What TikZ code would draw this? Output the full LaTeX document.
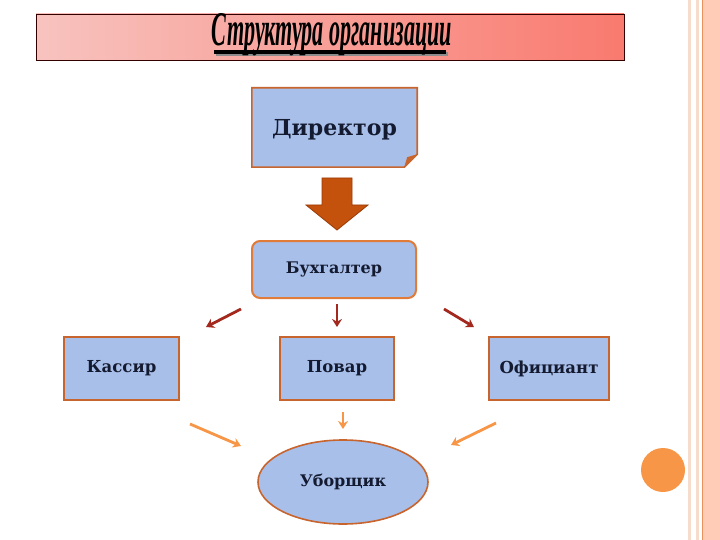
\documentclass[tikz,border=0pt]{standalone}
\usepackage{fontspec}
\setmainfont{DejaVu Serif}
\newfontfamily\titlefont{Liberation Serif}
\usetikzlibrary{shapes.geometric,calc,arrows.meta}
\definecolor{boxblue}{HTML}{A8BFE9}
\definecolor{boxedge}{HTML}{C8652E}
\definecolor{buxedge}{HTML}{E07B39}
\definecolor{bigarrow}{HTML}{C4510C}
\definecolor{bigarrowedge}{HTML}{9A3B08}
\definecolor{darkred}{HTML}{A3291F}
\definecolor{lightorange}{HTML}{F79646}
\definecolor{titleleft}{HTML}{F8C3BF}
\definecolor{titleright}{HTML}{F97A6F}
\definecolor{peach}{HTML}{FFCCB7}
\definecolor{stripe}{HTML}{F5DCCB}
\definecolor{stripeorange}{HTML}{E9905C}
\definecolor{textdark}{HTML}{141A30}
\tikzset{
  flatbox/.style={fill=boxblue, draw=boxedge, line width=1.6pt, minimum width=#1, minimum height=63pt, inner sep=0pt, font=\bfseries\fontsize{16.5}{19}\selectfont, text=textdark},
  redarrow/.style={draw=darkred, line width=2.8pt, -{Stealth[length=8pt,width=10pt]}},
  orarrow/.style={draw=lightorange, line width=2.8pt, -{Stealth[length=8pt,width=10pt]}},
}
\begin{document}
\begin{tikzpicture}[x=1pt,y=-1pt]
\useasboundingbox (0,0) rectangle (720,540);
\fill[white] (0,0) rectangle (720,540);
% right side stripes
\fill[stripe] (688,0) rectangle (691,540);
\fill[stripe] (696,0) rectangle (698.5,540);
\fill[peach] (702,0) rectangle (720,540);
\fill[stripeorange] (701.5,0) rectangle (703,540);
% title bar
\shade[left color=titleleft, right color=titleright] (36,14) rectangle (624,60);
\draw[draw=black!80!red, line width=0.8pt] (36,14) rectangle (624,60);
\fill[black!45] (216,52) rectangle (448,56);
\fill[black] (214,50) rectangle (446,54);
\node (title) [inner sep=0pt] at (332,35) {\resizebox{240pt}{32pt}{\titlefont\bfseries\itshape Структура организации}};
% director
\node (dir) [minimum width=165pt, minimum height=79pt, inner sep=0pt] at (334.5,127.5) {};
\filldraw[fill=boxblue, draw=boxedge, line width=1.6pt]
  (dir.north west) -- (dir.north east) -- ($(dir.south east)+(0,-13)$)
  .. controls ($(dir.south east)+(-4,-9)$) and ($(dir.south east)+(-9,-4)$) .. ($(dir.south east)+(-13,0)$)
  -- (dir.south west) -- cycle;
\fill[boxedge] ($(dir.south east)+(0,-13)$) -- ($(dir.south east)+(-13,0)$) -- ($(dir.south east)+(-10,-10)$) -- cycle;
\node (dirtext) at (dir) [font=\bfseries\fontsize{22}{26}\selectfont, text=textdark, yshift=-2pt] {Директор};
% big arrow
\filldraw[fill=bigarrow, draw=bigarrowedge, line width=0.8pt]
  (322,178) -- (352,178) -- (352,205) -- (368,205) -- (337,230) -- (306,205) -- (322,205) -- cycle;
% buxgalter
\node (bux) [fill=boxblue, draw=buxedge, line width=2pt, rounded corners=8pt, minimum width=164pt, minimum height=57pt, inner sep=0pt, font=\bfseries\fontsize{16}{19}\selectfont, text=textdark] at (334,269.5) {Бухгалтер};
% second row
\node (kas) [flatbox=115pt] at (121.5,368.5) {Кассир};
\node (pov) [flatbox=114pt] at (337,368.5) {Повар};
\node (ofi) [flatbox=120pt] at (549,368.5) {Официант};
% ellipse
\node (ubo) [ellipse, fill=boxblue, draw=boxedge, line width=1.6pt, minimum width=170pt, minimum height=84pt, inner sep=0pt, font=\bfseries\fontsize{16}{19}\selectfont, text=textdark] at (343,482) {Уборщик};
% small red arrows
\coordinate (r1s) at (241,309); \coordinate (r1e) at (206,327);
\coordinate (r2s) at (337,304); \coordinate (r2e) at (337,327);
\coordinate (r3s) at (444,309); \coordinate (r3e) at (474,327);
\draw[redarrow] (r1s) -- (r1e);
\draw[redarrow] (r2s) -- (r2e);
\draw[redarrow] (r3s) -- (r3e);
% orange arrows
\coordinate (o1s) at (190,424); \coordinate (o1e) at (241,446);
\coordinate (o2s) at (343,412); \coordinate (o2e) at (343,429);
\coordinate (o3s) at (496,423); \coordinate (o3e) at (451,445);
\draw[orarrow] (o1s) -- (o1e);
\draw[orarrow] (o2s) -- (o2e);
\draw[orarrow] (o3s) -- (o3e);
% orange circle
\fill[lightorange] (663,470) circle (22pt);
\end{tikzpicture}
\end{document}
